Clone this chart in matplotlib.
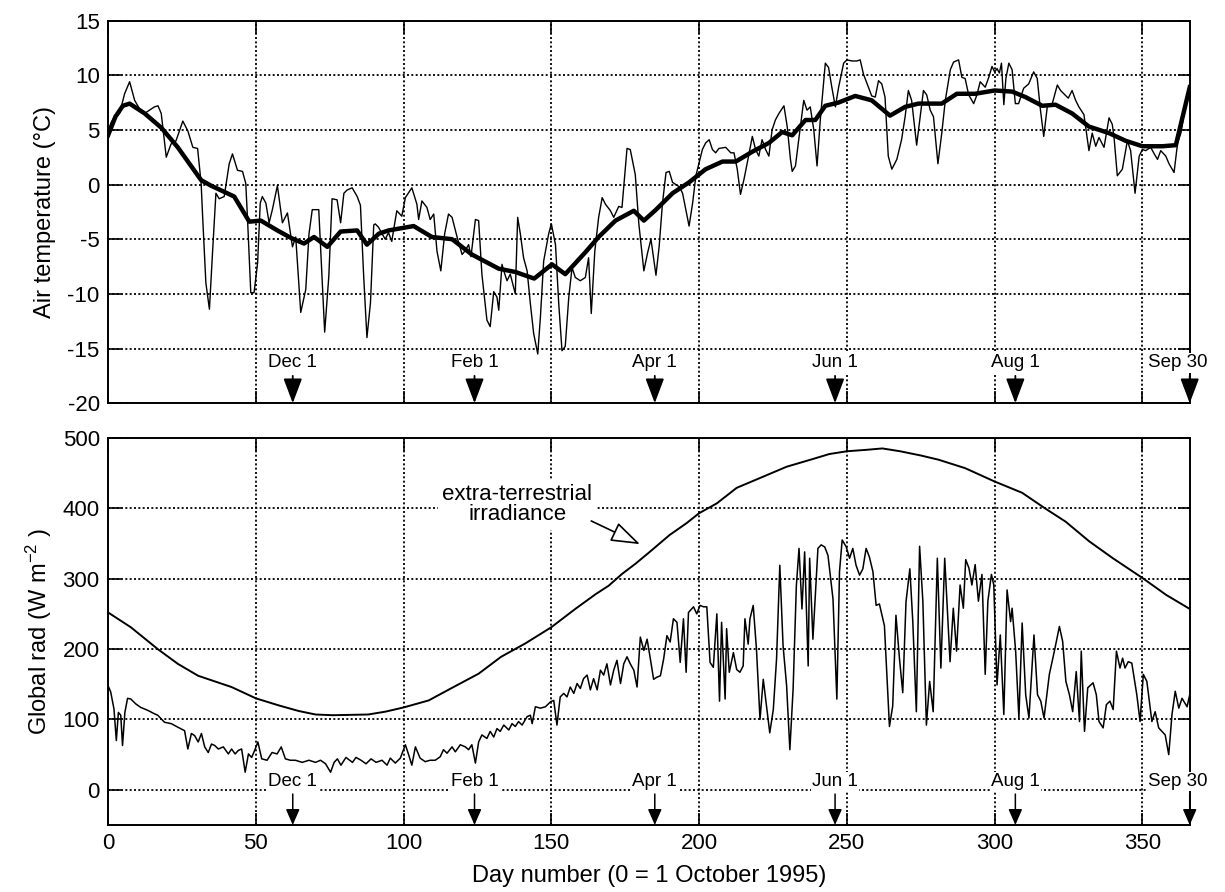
import matplotlib
matplotlib.use('Agg')
import matplotlib.pyplot as plt

plt.rcParams['font.family'] = ['Liberation Sans', 'DejaVu Sans']
plt.rcParams['mathtext.fontset'] = 'custom'
plt.rcParams['mathtext.rm'] = 'Liberation Sans'
plt.rcParams['mathtext.it'] = 'Liberation Sans:italic'
plt.rcParams['axes.unicode_minus'] = False

# ---------------- data ----------------
temp_day = [0, 1.1, 2.2, 3.9, 5.6, 7.3, 9.0, 10.7, 12.4, 14.0, 15.7, 16.9, 18.0, 19.7, 21.3, 23.0, 25.3, 27.0,
            28.7, 30.3, 31.5, 32.0, 33.1, 34.3, 35.4, 36.5, 37.6, 39.3, 41.0, 42.1, 43.8, 45.5, 46.6, 47.2, 48.3,
            49.4, 50.6, 51.5, 52.2, 53.4, 54.5, 55.6, 57.3, 59.0, 60.7, 62.4, 63.5, 65.2, 66.9, 68.0, 69.1, 71.3,
            71.9, 73.3, 74.7, 75.8, 77.5, 78.7, 79.8, 80.9, 82.6, 84.3, 85.4, 86.5, 87.6, 88.8, 89.9,
            90.4, 91.5, 92.7, 93.8, 94.9, 96.0, 96.6, 97.7, 99.4, 100.6, 102.8, 104.5, 105.1, 106.2, 107.9, 109.0,
            110.2, 111.3, 112.6, 113.9, 115.2, 116.4, 118.1, 119.8, 120.7, 122.0, 122.8, 124.3, 125.4, 126.5,
            128.2, 129.3, 130.5, 131.6, 132.2, 133.3, 133.9, 135.0, 136.1, 137.8, 138.6, 139.5, 140.6, 141.8,
            142.9, 144.0, 145.4, 146.3, 147.4, 149.1, 150.0, 151.4, 152.5, 153.6, 154.7, 155.9, 157.0, 158.1,
            159.8, 161.5, 162.6, 163.5, 164.7, 166.0, 167.2, 168.3, 170.0, 171.1, 172.8, 173.9, 175.6, 176.7,
            178.4, 179.6, 181.3,
            182.6, 183.7, 185.4, 186.5, 187.6, 188.8, 189.9, 191.0, 192.1, 193.3, 194.4, 195.5, 196.6, 197.8,
            198.9, 200.0, 201.1, 202.2, 203.4, 204.5, 205.6, 206.7, 209.0, 210.7, 211.8, 212.9, 214.0, 215.2,
            216.3, 218.0, 219.1, 220.2, 221.3, 222.5, 223.6, 224.7, 225.8, 227.0, 228.7, 229.8, 230.9, 231.5,
            232.6, 233.7, 235.4, 236.5, 237.6, 238.8, 239.9, 241.0, 242.1, 242.7, 243.8, 244.9, 246.1, 247.2,
            248.9, 250.0, 251.7, 253.4, 254.5, 255.6, 257.3, 258.4, 259.6, 260.7, 261.8, 262.9, 264.0, 265.2,
            266.9, 268.5, 269.7, 270.8, 271.9, 273.6,
            274.8, 275.9, 277.0, 278.2, 279.3, 280.8, 282.1, 283.3, 285.0, 286.1, 287.8, 288.9, 290.0, 291.2,
            292.9, 294.0, 295.1, 296.8, 298.0, 299.1, 300.0, 300.8, 301.6, 302.3, 303.1, 303.8, 304.8, 305.9,
            307.0, 308.1, 309.8, 311.5, 313.2, 314.4, 315.5, 316.6, 317.8, 319.5, 321.2, 322.3, 323.4, 324.9,
            326.2, 327.4, 328.5, 330.2, 331.9, 333.0, 334.2, 335.3, 337.0, 338.7, 339.8, 340.4, 341.5, 343.2,
            344.9, 346.0, 347.5, 348.9, 350.0, 351.1, 352.8, 354.0, 355.1, 356.2, 357.9, 359.0, 360.7, 361.9,
            363.0, 364.1, 366.0]
temp_val = [4.9, 5.7, 6.2, 6.5, 8.3, 9.4, 7.7, 6.9, 6.5, 6.8, 7.1, 7.2, 6.5, 2.5, 3.7, 4.0, 5.8, 4.9,
            3.4, 3.3, 0.1, -2.9, -9.0, -11.4, -6.0, -0.8, -1.3, -1.1, 1.9, 2.8, 1.3, 1.2, 0.1, -3.2, -9.9,
            -9.9, -7.2, -1.7, -1.1, -1.7, -3.5, -2.3, -0.1, -3.5, -2.6, -5.7, -4.8, -11.7, -9.6, -4.5, -2.3, -2.3,
            -5.7, -13.5, -8.4, -1.3, -1.4, -3.5, -0.8, -0.5, -0.3, -1.1, -1.9, -8.4, -14.0, -10.8, -3.7,
            -3.6, -3.9, -4.5, -5.0, -4.4, -5.2, -4.2, -2.4, -2.9, -1.2, -0.3, -1.8, -3.2, -1.5, -2.1, -3.2,
            -2.7, -6.1, -7.9, -4.5, -2.7, -3.0, -4.8, -6.4, -6.1, -5.5, -6.6, -3.2, -3.3, -8.2,
            -12.4, -13.0, -9.8, -10.3, -11.5, -7.3, -7.9, -8.8, -8.2, -10.0, -3.0, -4.5, -6.7, -7.9,
            -10.9, -13.6, -15.5, -12.1, -7.0, -4.5, -3.6, -5.5, -10.9, -15.2, -14.8, -10.3, -7.6, -8.5,
            -8.8, -8.5, -6.7, -11.8, -6.1, -3.0, -1.2, -1.8, -2.4, -3.0, -2.0, -2.1, 3.3, 3.2,
            0.9, -3.6, -7.9,
            -6.2, -5.0, -8.3, -5.6, -1.7, 1.1, 1.2, 0.2, 0.0, -0.2, -0.8, -2.3, -3.8, -1.7,
            0.8, 2.0, 3.2, 3.8, 4.1, 3.2, 2.9, 3.3, 3.4, 2.9, 2.9, 1.4, -0.9, 0.5,
            2.0, 4.4, 3.2, 2.6, 4.1, 3.2, 2.6, 5.0, 5.9, 6.5, 7.2, 5.3, 2.3, 1.2,
            1.7, 4.1, 7.7, 6.8, 7.1, 5.0, 1.7, 5.9, 9.2, 11.1, 10.7, 8.9, 7.1, 8.9,
            11.1, 11.4, 11.3, 11.3, 11.4, 10.1, 8.9, 8.1, 8.0, 9.5, 9.2, 8.0, 2.6, 1.4,
            2.3, 4.1, 6.2, 8.6, 7.7, 3.6,
            6.2, 8.6, 8.2, 6.8, 6.2, 1.9, 4.7, 7.7, 10.5, 11.2, 11.4, 9.8, 9.7, 8.2,
            7.4, 8.2, 9.4, 8.9, 9.8, 10.8, 10.3, 10.6, 10.2, 11.1, 7.3, 9.7, 11.1, 10.5,
            7.4, 7.4, 8.8, 9.2, 10.3, 9.7, 6.8, 4.4, 7.1, 7.4, 9.1, 8.6, 8.3, 7.9,
            8.6, 7.7, 7.1, 6.4, 3.1, 4.7, 3.5, 4.3, 3.4, 6.1, 5.5, 4.3, 0.8, 1.4,
            4.0, 3.1, -0.8, 2.6, 3.2, 3.1, 3.4, 2.8, 2.3, 3.1, 2.6, 1.9, 1.1, 3.8,
            4.7, 6.5, 9.0]

smooth_day = [0, 2.5, 5.0, 7.3, 12.4, 18.0, 23.6, 31.5, 34.8, 42.7, 47.8, 51.7, 57.3, 62.0, 66.3, 69.7, 74.2,
              78.7, 84.3, 87.6, 91.6, 94.9, 103.4, 109.6, 116.4, 123.1, 132.2, 137.8, 144.2, 150.2, 154.7,
              161.5, 166.0, 171.7, 177.9, 181.3, 185.4, 191.0, 196.6, 202.2, 207.9, 212.4, 218.0, 223.6,
              228.1, 231.5, 236.0, 239.3, 242.7, 247.2, 252.8, 258.4, 264.6, 269.7, 274.2, 282.1, 287.2,
              293.4, 300.0, 305.9, 310.4, 316.1, 320.6, 326.2, 331.9, 338.7, 344.3, 350.0, 356.8, 361.3, 366.0]
smooth_val = [4.5, 6.2, 7.2, 7.4, 6.5, 5.2, 3.4, 0.4, -0.1, -1.1, -3.4, -3.3, -4.2, -4.9, -5.4, -4.8, -5.7,
              -4.3, -4.2, -5.5, -4.5, -4.2, -3.8, -4.8, -5.0, -6.4, -7.7, -8.0, -8.6, -7.3, -8.2,
              -6.2, -4.8, -3.3, -2.4, -3.3, -2.3, -0.8, 0.2, 1.4, 2.1, 2.1, 3.0, 3.8,
              4.8, 4.5, 5.9, 5.9, 7.2, 7.5, 8.1, 7.7, 6.3, 7.1, 7.4, 7.4, 8.3,
              8.3, 8.6, 8.5, 8.0, 7.2, 7.3, 6.5, 5.3, 4.7, 4.0, 3.5, 3.5, 3.6, 8.9]

rad_day = [0, 0.9, 2.0, 2.8, 3.5, 4.3, 4.9, 5.7, 6.6, 7.7, 9.4, 11.1, 13.4, 15.7, 16.8, 19.1, 21.4, 23.6,
           25.9, 27.0, 28.2, 29.3, 30.5, 31.6, 32.7, 33.9, 35.0, 36.1, 37.3, 39.0, 40.7, 41.8, 43.0, 44.1,
           45.2, 46.4, 47.5, 48.6, 49.8, 50.7, 52.0, 53.8, 55.5, 57.2, 58.6, 60.0, 61.7, 63.4, 65.7, 68.0,
           70.2, 71.9, 73.6, 75.3, 76.5, 77.6, 78.8, 80.5, 82.7, 83.9, 85.6, 87.3, 89.0, 90.7,
           92.7, 94.4, 95.5, 97.2, 98.9, 100.6, 101.7, 102.8, 104.0, 105.6, 107.3, 109.0, 110.7, 112.4,
           113.5, 114.7, 116.4, 117.5, 119.2, 120.9, 122.0, 123.1, 124.3, 125.4, 126.5, 128.2, 129.3, 130.5,
           131.6, 132.7, 133.9, 135.6, 136.7, 137.8, 138.9, 140.1, 141.8, 142.9, 143.5, 144.6, 146.3, 148.0,
           149.7, 150.8, 151.9, 153.0, 154.2, 155.3, 156.4, 157.6, 158.7, 159.8, 160.9, 162.1, 163.2, 164.3,
           165.5, 166.6, 167.7, 168.8, 170.0, 171.1, 172.2, 173.4, 174.5, 175.6, 176.7, 177.9, 179.0, 180.1,
           181.3, 182.4, 183.5, 184.6, 185.7, 186.9, 188.0, 189.1, 190.2, 191.3, 192.5, 193.6, 194.7, 195.6,
           196.4, 198.1, 199.2, 200.3, 201.5, 202.6, 203.7, 204.8, 206.0, 206.9, 207.6, 208.8, 209.3, 210.2,
           211.6, 212.7, 213.8, 214.9, 215.5, 216.6, 217.2, 218.3, 219.4, 220.6, 221.7, 222.8, 223.9, 225.1,
           226.2, 227.3, 228.4, 229.6, 230.7, 231.8, 232.9, 233.8, 234.8, 235.7, 236.9, 237.4, 238.5, 240.2,
           241.3, 242.5, 243.6, 245.3, 246.6, 247.5, 248.4, 249.8, 250.9, 252.0, 253.1, 254.3, 255.4, 256.5,
           257.6, 258.8, 259.9, 261.0, 262.7, 264.4, 265.5, 266.6, 267.8, 268.9, 270.0, 271.3, 272.3, 273.5,
           274.6, 275.7, 276.9, 278.0, 279.2, 280.6, 281.8, 283.1, 284.9, 286.0, 287.1, 288.3, 289.4, 290.2,
           291.3, 292.3, 293.4, 294.5, 295.7, 296.8, 297.7, 298.9, 299.7, 300.8, 301.9, 303.1, 304.2, 305.4,
           305.9, 307.1, 308.2, 309.3, 310.5, 311.6, 313.3, 314.5, 315.6, 316.7, 318.5, 320.2, 321.9, 323.0,
           324.1, 325.3, 326.4, 327.6, 328.7, 329.3, 330.4, 331.5, 333.3, 334.4, 335.3, 336.7, 337.8, 339.0,
           340.1, 341.2, 342.4, 343.3, 344.1, 345.2, 346.4, 348.1, 349.2, 350.3, 351.5, 353.2, 354.3, 355.5,
           356.6, 357.7, 358.9, 360.0, 361.1, 362.3, 363.4, 365.1, 366.0]
rad_val = [148, 139, 115, 70, 110, 106, 63, 110, 130, 129, 122, 117, 113, 108, 106, 96, 94, 89,
           84, 58, 80, 77, 68, 80, 61, 53, 65, 63, 58, 61, 51, 58, 51, 56,
           58, 25, 51, 46, 58, 68, 44, 42, 53, 51, 61, 44, 42, 42, 39, 42,
           39, 42, 37, 25, 39, 44, 35, 46, 39, 46, 42, 37, 44, 39,
           42, 35, 45, 38, 45, 64, 50, 35, 61, 45, 40, 42, 42, 47,
           57, 52, 61, 54, 64, 61, 57, 64, 38, 68, 78, 73, 83, 75,
           87, 83, 92, 85, 94, 90, 97, 92, 104, 106, 94, 118, 116, 118,
           125, 127, 92, 132, 137, 132, 146, 137, 151, 144, 158, 163, 142, 158,
           142, 170, 163, 179, 149, 170, 184, 151, 179, 189, 179, 170, 146, 217,
           198, 214, 186, 157, 160, 162, 186, 219, 210, 243, 238, 181, 243, 167,
           252, 260, 250, 262, 260, 260, 181, 174, 250, 126, 238, 129, 229, 167,
           195, 171, 167, 176, 243, 207, 243, 262, 200, 100, 157, 119, 81, 114,
           186, 319, 205, 148, 57, 143, 290, 343, 257, 338, 176, 329, 214, 343,
           348, 345, 333, 271, 129, 310, 355, 345, 329, 343, 319, 305, 314, 343,
           331, 310, 262, 264, 233, 90, 119, 248, 186, 138, 267, 314, 239, 111,
           346, 268, 92, 154, 111, 329, 173, 329, 182, 258, 197, 291, 258, 327,
           315, 291, 320, 268, 306, 164, 268, 306, 291, 149, 220, 107, 284, 239,
           258, 197, 102, 237, 135, 102, 220, 135, 126, 102, 164, 197, 232, 211,
           154, 135, 111, 168, 97, 197, 83, 145, 152, 135, 97, 88, 121, 126,
           114, 197, 173, 187, 173, 182, 180, 135, 97, 164, 154, 97, 111, 88,
           83, 78, 50, 107, 140, 116, 130, 118, 135]

et_day = [0, 7.7, 16.8, 23.6, 30.5, 41.8, 50, 57.7, 64.5, 70.2, 76, 88, 93.8, 100, 108.5, 116, 125.4, 133,
          141.2, 150, 158.1, 165, 169.4, 174, 178.4, 183, 190, 195.8, 200, 206, 212.7, 220.6, 229.6,
          238.5, 244, 250, 256.5, 262, 268, 275, 281, 290, 300, 309.3, 317, 324, 332, 340, 350, 358, 366]
et_val = [252, 231, 200, 179, 162, 146, 130, 120, 112, 107, 106, 107, 111, 117, 127, 144, 165, 189,
          208, 231, 257, 278, 290, 307, 321, 337, 362, 379, 393, 407, 429, 443, 459,
          470, 477, 481, 483, 485, 481, 475, 469, 457, 438, 422, 400, 381, 353, 329, 301, 277, 257]

month_labels = ['Dec 1', 'Feb 1', 'Apr 1', 'Jun 1', 'Aug 1', 'Sep 30']
month_arrow_days = [62.5, 124, 185, 246, 307, 366]
month_text_days = [62.5, 124, 185, 246, 307, 362]

temp_ticks = [-20, -15, -10, -5, 0, 5, 10, 15]
rad_ticks = [0, 100, 200, 300, 400, 500]
day_ticks = [0, 50, 100, 150, 200, 250, 300, 350]

# ---------------- figure ----------------
fig = plt.figure(figsize=(12.25, 8.92), dpi=100)
ax1 = fig.add_axes([0.0882, 0.548, 0.883, 0.429])
ax2 = fig.add_axes([0.0882, 0.0751, 0.883, 0.434])

grid_kw = dict(color='black', linestyle=(0, (1.1, 1.3)), linewidth=1.3)

for ax in (ax1, ax2):
    ax.set_xlim(0, 366)
    ax.set_xticks(day_ticks)
    ax.tick_params(direction='in', length=9, width=1.2, top=True, right=True, labelsize=16, pad=6)
    for s in ax.spines.values():
        s.set_linewidth(1.4)
    ax.grid(True, **grid_kw)
    ax.set_axisbelow(True)

# top panel
ax1.plot(temp_day, temp_val, color='black', lw=1.0, zorder=3)
ax1.plot(smooth_day, smooth_val, color='black', lw=3.2, zorder=4, solid_joinstyle='round')
ax1.set_ylim(-20, 15)
ax1.set_yticks(temp_ticks)
ax1.tick_params(labelbottom=False)
ax1.set_ylabel('Air temperature (°C)', fontsize=17, labelpad=8)

# bottom panel
ax2.plot(rad_day, rad_val, color='black', lw=1.1, zorder=3)
ax2.plot(et_day, et_val, color='black', lw=1.4, zorder=3)
ax2.set_ylim(-50, 500)
ax2.set_yticks(rad_ticks)
ax2.set_ylabel('Global rad (W m$^{-2}$ )', fontsize=17, labelpad=6)
ax2.set_xlabel('Day number (0 = 1 October 1995)', fontsize=17, labelpad=8)

box = dict(facecolor='white', edgecolor='none', pad=1.0)

for lab, ad, td in zip(month_labels, month_arrow_days, month_text_days):
    ax1.text(td, -16.3, lab, ha='center', va='center', fontsize=13.5, bbox=box, zorder=5, clip_on=False)
    ax1.annotate('', xy=(ad, -20), xytext=(ad, -17.5),
                 arrowprops=dict(arrowstyle='-|>,head_length=0.9,head_width=0.34', color='black',
                                 lw=1.3, mutation_scale=17, shrinkA=0, shrinkB=0),
                 annotation_clip=False, zorder=6)
    ax2.text(td, 12, lab, ha='center', va='center', fontsize=13.5, bbox=box, zorder=5, clip_on=False)
    ax2.annotate('', xy=(ad, -50), xytext=(ad, -6),
                 arrowprops=dict(arrowstyle='-|>,head_length=0.8,head_width=0.35', color='black',
                                 lw=1.1, mutation_scale=12, shrinkA=0, shrinkB=0),
                 annotation_clip=False, zorder=6)

ax2.text(138.5, 405, 'extra-terrestrial\nirradiance', ha='center', va='center', fontsize=16,
         linespacing=0.95, bbox=dict(facecolor='white', edgecolor='none', pad=3), zorder=5)
ax2.annotate('', xy=(180, 349), xytext=(163.5, 382),
             arrowprops=dict(arrowstyle='-|>,head_length=1.3,head_width=0.45', fc='white', ec='black',
                             lw=1.2, mutation_scale=14, shrinkA=0, shrinkB=0), zorder=6)

fig.savefig('out.png', dpi=100)
